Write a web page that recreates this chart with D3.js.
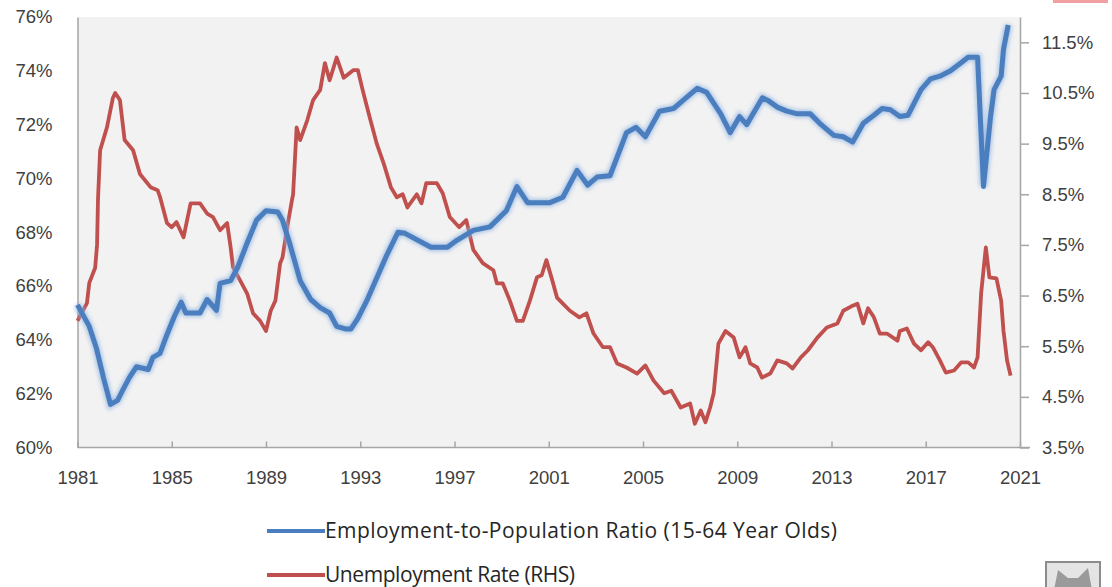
<!DOCTYPE html>
<html>
<head>
<meta charset="utf-8">
<script src="https://cdn.jsdelivr.net/npm/d3@7"></script>
<style>
  html, body { margin: 0; padding: 0; background: #ffffff; }
  #chart { width: 1112px; height: 587px; }
</style>
</head>
<body>
<div id="chart"></div>
<script>
// 就业人口比 (15-64岁), 左轴
const empYears = [1981.0, 1981.5, 1981.8, 1982.1, 1982.4, 1982.7, 1982.9, 1983.2, 1983.5, 1984.0,
  1984.2, 1984.5, 1984.8, 1985.1, 1985.4, 1985.6, 1986.2, 1986.5, 1986.8, 1986.9,
  1987.05, 1987.5, 1987.8, 1988.2, 1988.6, 1989.0, 1989.5, 1989.7, 1990.0, 1990.45,
  1990.9, 1991.3, 1991.7, 1992.0, 1992.4, 1992.6, 1992.9, 1993.3, 1993.7, 1994.1,
  1994.6, 1994.9, 1996.0, 1996.7, 1997.1, 1997.8, 1998.5, 1999.2, 1999.65, 2000.1,
  2001.05, 2001.6, 2002.2, 2002.65, 2003.05, 2003.6, 2004.3, 2004.7, 2005.1, 2005.7,
  2006.3, 2006.7, 2007.3, 2007.7, 2008.3, 2008.7, 2009.1, 2009.4, 2010.07, 2010.3,
  2010.7, 2011.1, 2011.55, 2012.1, 2012.5, 2013.1, 2013.5, 2013.9, 2014.35, 2014.8,
  2015.15, 2015.5, 2015.9, 2016.25, 2016.8, 2017.2, 2017.6, 2018.05, 2018.5, 2018.8,
  2019.2, 2019.45, 2019.75, 2019.9, 2020.2, 2020.3, 2020.5]
const empValues = [65.3, 64.5, 63.7, 62.6, 61.6, 61.75, 62.1, 62.6, 63.0, 62.9,
  63.35, 63.5, 64.2, 64.85, 65.4, 65.0, 65.0, 65.5, 65.2, 65.1,
  66.1, 66.2, 66.7, 67.6, 68.45, 68.8, 68.75, 68.45, 67.6, 66.2,
  65.5, 65.2, 65.0, 64.5, 64.4, 64.4, 64.8, 65.5, 66.3, 67.1,
  68.0, 67.96, 67.44, 67.44, 67.7, 68.07, 68.2, 68.8, 69.7, 69.1,
  69.1, 69.3, 70.3, 69.75, 70.05, 70.1, 71.7, 71.9, 71.55, 72.5,
  72.6, 72.9, 73.35, 73.2, 72.4, 71.7, 72.3, 72.0, 73.0, 72.9,
  72.65, 72.5, 72.4, 72.4, 72.05, 71.6, 71.55, 71.35, 72.05, 72.35,
  72.6, 72.55, 72.3, 72.35, 73.3, 73.7, 73.8, 74.0, 74.3, 74.5,
  74.5, 69.7, 72.3, 73.3, 73.8, 74.8, 75.7]

// 失业率, 右轴
const unempYears = [1981.0, 1981.4, 1981.5, 1981.75, 1981.83, 1981.87, 1981.96, 1982.25, 1982.5, 1982.6,
  1982.8, 1983.0, 1983.36, 1983.65, 1984.1, 1984.4, 1984.5, 1984.8, 1985.0, 1985.2,
  1985.5, 1985.8, 1986.2, 1986.5, 1986.75, 1987.05, 1987.35, 1987.5, 1987.6, 1987.9,
  1988.2, 1988.45, 1988.75, 1989.0, 1989.2, 1989.4, 1989.6, 1989.7, 1989.9, 1990.1,
  1990.15, 1990.3, 1990.45, 1990.75, 1991.0, 1991.3, 1991.5, 1991.7, 1992.0, 1992.3,
  1992.7, 1992.9, 1993.1, 1993.4, 1993.7, 1994.0, 1994.3, 1994.55, 1994.8, 1995.0,
  1995.4, 1995.6, 1995.8, 1996.25, 1996.5, 1996.8, 1997.2, 1997.5, 1997.8, 1998.2,
  1998.65, 1998.8, 1999.05, 1999.35, 1999.65, 1999.9, 2000.2, 2000.5, 2000.7, 2000.9,
  2001.15, 2001.35, 2001.6, 2001.9, 2002.3, 2002.6, 2002.9, 2003.3, 2003.6, 2003.9,
  2004.3, 2004.75, 2005.1, 2005.45, 2005.9, 2006.2, 2006.6, 2007.0, 2007.2, 2007.45,
  2007.65, 2007.85, 2008.0, 2008.2, 2008.5, 2008.85, 2009.1, 2009.35, 2009.55, 2009.85,
  2010.05, 2010.4, 2010.7, 2011.1, 2011.35, 2011.7, 2012.0, 2012.4, 2012.8, 2013.25,
  2013.5, 2013.9, 2014.1, 2014.35, 2014.55, 2014.8, 2015.05, 2015.35, 2015.8, 2015.9,
  2016.2, 2016.5, 2016.8, 2017.1, 2017.3, 2017.6, 2017.85, 2018.2, 2018.5, 2018.8,
  2019.05, 2019.2, 2019.35, 2019.55, 2019.7, 2020.0, 2020.2, 2020.3, 2020.45, 2020.6]
const unempValues = [6.0, 6.35, 6.75, 7.05, 7.5, 8.4, 9.37, 9.82, 10.4, 10.5,
  10.36, 9.57, 9.37, 8.9, 8.64, 8.58, 8.45, 7.93, 7.85, 7.95,
  7.65, 8.32, 8.32, 8.12, 8.05, 7.79, 7.93, 7.45, 7.06, 6.8,
  6.54, 6.15, 6.0, 5.8, 6.2, 6.4, 7.14, 7.25, 7.85, 8.38,
  8.5, 9.82, 9.57, 9.96, 10.36, 10.56, 11.09, 10.75, 11.2, 10.8,
  10.95, 10.95, 10.56, 10.02, 9.5, 9.1, 8.64, 8.44, 8.5, 8.24,
  8.5, 8.32, 8.72, 8.72, 8.52, 8.05, 7.85, 7.99, 7.4, 7.14,
  7.0, 6.74, 6.74, 6.4, 6.0, 6.0, 6.4, 6.86, 6.9, 7.2,
  6.8, 6.46, 6.34, 6.2, 6.07, 6.15, 5.75, 5.48, 5.48, 5.16,
  5.08, 4.96, 5.12, 4.82, 4.57, 4.62, 4.29, 4.37, 3.97, 4.23,
  4.0, 4.29, 4.57, 5.55, 5.8, 5.67, 5.28, 5.48, 5.16, 5.08,
  4.88, 4.96, 5.22, 5.16, 5.06, 5.28, 5.42, 5.67, 5.87, 5.95,
  6.2, 6.3, 6.34, 5.95, 6.25, 6.07, 5.75, 5.75, 5.61, 5.8,
  5.85, 5.55, 5.42, 5.58, 5.48, 5.22, 4.98, 5.02, 5.18, 5.18,
  5.08, 5.28, 6.54, 7.45, 6.86, 6.84, 6.4, 5.8, 5.22, 4.92]

const xTicks = [1981, 1985, 1989, 1993, 1997, 2001, 2005, 2009, 2013, 2017, 2021]
const leftTicks = [60, 62, 64, 66, 68, 70, 72, 74, 76]
const rightTicks = [3.5, 4.5, 5.5, 6.5, 7.5, 8.5, 9.5, 10.5, 11.5]
const seriesNames = ['Employment-to-Population Ratio (15-64 Year Olds)', 'Unemployment Rate (RHS)']

const width = 1112
const height = 587
const plotLeft = 77.5
const plotRight = 1020
const plotTop = 17
const plotBottom = 447.5

const blue = '#4a7ebf'
const red = '#c0504d'
const axisColor = '#a6a6a6'
const textColor = '#404040'
const tickFont = '18.5px'

const svg = d3.select('#chart')
  .append('svg')
  .attr('width', width)
  .attr('height', height)
  .style('font-family', '"Open Sans", "DejaVu Sans", sans-serif')

const defs = svg.append('defs')
defs.append('filter')
  .attr('id', 'glow')
  .attr('x', '-5%').attr('y', '-5%')
  .attr('width', '110%').attr('height', '110%')
  .append('feGaussianBlur')
  .attr('stdDeviation', 2)

const xScale = d3.scaleLinear().domain([1981, 2021]).range([plotLeft, plotRight])
const yLeft = d3.scaleLinear().domain([60, 76]).range([plotBottom, plotTop])
const yRight = d3.scaleLinear().domain([3.5, 12]).range([plotBottom, plotTop])

// 绘图区背景
svg.append('rect')
  .attr('x', plotLeft)
  .attr('y', plotTop)
  .attr('width', plotRight - plotLeft)
  .attr('height', plotBottom - plotTop)
  .style('fill', '#f2f2f2')

// x坐标轴
const xAxis = d3.axisBottom(xScale)
  .tickValues(xTicks)
  .tickSize(-6)
  .tickSizeOuter(0)
  .tickPadding(23)
  .tickFormat(d => '' + d)
const xg = svg.append('g')
  .attr('transform', `translate(0, ${plotBottom})`)
  .call(xAxis)
xg.select('.domain').attr('stroke', axisColor).attr('stroke-width', 1.5)
  .attr('d', `M${plotLeft},0H${plotRight + 10}`)
xg.selectAll('.tick line').attr('stroke', axisColor).attr('stroke-width', 1.5)
xg.selectAll('.tick text')
  .style('font-size', tickFont)
  .style('fill', textColor)

// 左轴
const yAxisL = d3.axisLeft(yLeft)
  .tickValues(leftTicks)
  .tickSize(0)
  .tickPadding(25)
  .tickFormat(d => d + '%')
const ylg = svg.append('g')
  .attr('transform', `translate(${plotLeft}, 0)`)
  .call(yAxisL)
ylg.select('.domain').attr('stroke', axisColor).attr('stroke-width', 1.5)
ylg.selectAll('.tick text')
  .style('font-size', tickFont)
  .style('fill', textColor)

// 右轴
const yAxisR = d3.axisRight(yRight)
  .tickValues(rightTicks)
  .tickSize(9)
  .tickSizeOuter(0)
  .tickPadding(13)
  .tickFormat(d => d.toFixed(1) + '%')
const yrg = svg.append('g')
  .attr('transform', `translate(${plotRight}, 0)`)
  .call(yAxisR)
yrg.select('.domain').attr('stroke', axisColor).attr('stroke-width', 1.5)
yrg.selectAll('.tick line').attr('stroke', axisColor).attr('stroke-width', 1.5)
yrg.selectAll('.tick text')
  .style('font-size', tickFont)
  .style('fill', textColor)

// 折线
const empData = empYears.map((y, i) => ({ year: y, value: empValues[i] }))
const unempData = unempYears.map((y, i) => ({ year: y, value: unempValues[i] }))

const empLine = d3.line().x(d => xScale(d.year)).y(d => yLeft(d.value))
const unempLine = d3.line().x(d => xScale(d.year)).y(d => yRight(d.value))

svg.append('path')
  .datum(unempData)
  .attr('d', unempLine)
  .style('fill', 'none')
  .style('stroke', red)
  .style('stroke-width', 3.8)
  .style('stroke-linejoin', 'round')

svg.append('path')
  .datum(empData)
  .attr('d', empLine)
  .attr('filter', 'url(#glow)')
  .style('fill', 'none')
  .style('stroke', '#8fb3e0')
  .style('stroke-width', 7.5)
  .style('opacity', 0.8)

svg.append('path')
  .datum(empData)
  .attr('d', empLine)
  .style('fill', 'none')
  .style('stroke', blue)
  .style('stroke-width', 5)
  .style('stroke-linejoin', 'round')

// 图例
const legend = svg.append('g').attr('transform', 'translate(267, 0)')
const legendItems = legend.selectAll('g.item')
  .data([
    { name: seriesNames[0], color: blue, y: 531, len: 512 },
    { name: seriesNames[1], color: red, y: 575, len: 250 }
  ])
  .enter()
  .append('g')
  .classed('item', true)
  .attr('transform', d => `translate(0, ${d.y})`)

legendItems.append('line')
  .attr('x1', 0).attr('x2', 58)
  .attr('y1', 0).attr('y2', 0)
  .style('stroke', d => d.color)
  .style('stroke-width', 4)

legendItems.append('text')
  .text(d => d.name)
  .attr('x', 58)
  .attr('dy', '0.35em')
  .attr('textLength', d => d.len)
  .attr('lengthAdjust', 'spacing')
  .style('font-family', '"Open Sans", Lato, sans-serif')
  .style('font-size', '21px')
  .style('fill', '#262626')

// 右上角残留的红框
svg.append('line')
  .attr('x1', 1053).attr('x2', 1108)
  .attr('y1', 1.5).attr('y2', 1.5)
  .style('stroke', '#f0a0a0')
  .style('stroke-width', 3)

// 右下角小图标
const icon = svg.append('g').attr('transform', 'translate(1046, 562)')
icon.append('rect')
  .attr('width', 54).attr('height', 28)
  .style('fill', '#e4e4e4')
  .style('stroke', '#8c8c8c')
  .style('stroke-width', 2)
icon.append('path')
  .attr('d', 'M8,28 L12,8 L22,16 L32,16 L42,6 L46,28 Z')
  .style('fill', '#9a9a9a')
</script>
</body>
</html>
